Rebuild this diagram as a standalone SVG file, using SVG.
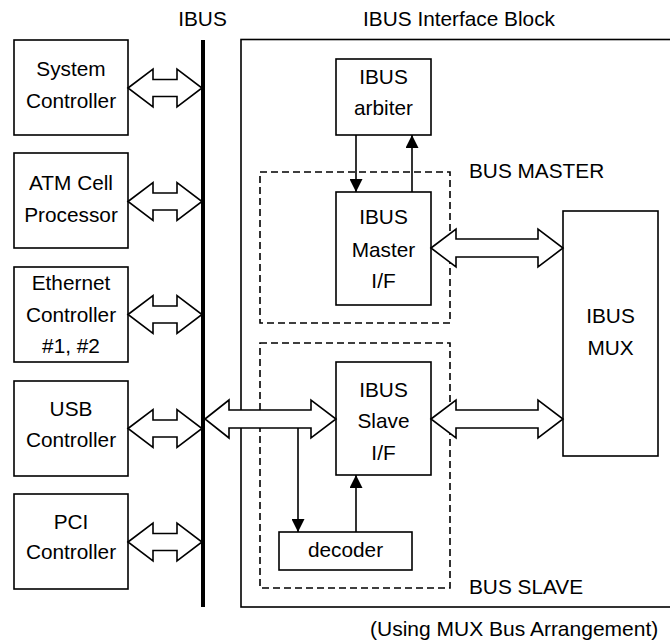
<svg xmlns="http://www.w3.org/2000/svg" width="670" height="641" viewBox="0 0 670 641">
<style>
text{font-family:"Liberation Sans",Arial,Helvetica,sans-serif;font-size:20.8px;fill:#000}
.c{text-anchor:middle}
.box{fill:#fff;stroke:#000;stroke-width:1.6}
.dash{fill:none;stroke:#000;stroke-width:1.6;stroke-dasharray:7 4}
.dbl{fill:#fff;stroke:#000;stroke-width:1.6;stroke-linejoin:miter}
.ln{fill:none;stroke:#000;stroke-width:1.6}
</style>
<defs>
<marker id="ah" markerUnits="userSpaceOnUse" markerWidth="13" markerHeight="13" refX="13" refY="6.5" orient="auto">
<path d="M0,0 L13,6.5 L0,13 z" fill="#000"/>
</marker>
</defs>
<rect width="670" height="641" fill="#fff"/>

<text class="c" x="202.5" y="26">IBUS</text>
<text class="c" x="459" y="26">IBUS Interface Block</text>

<g id="interface-block"><rect class="box" x="241" y="39.5" width="440" height="567.5"/></g>
<g id="bus-master-group"><rect class="dash" x="260" y="172" width="190" height="151"/><text x="469" y="178">BUS MASTER</text></g>
<g id="bus-slave-group"><rect class="dash" x="260" y="343" width="190" height="245"/><text x="469" y="594">BUS SLAVE</text></g>

<g id="system-controller"><rect class="box" x="14" y="40" width="114" height="95"/><text class="c" x="71" y="76">System</text><text class="c" x="71" y="108">Controller</text></g>
<g id="atm-cell-processor"><rect class="box" x="14" y="153" width="114" height="95"/><text class="c" x="71" y="190">ATM Cell</text><text class="c" x="71" y="222">Processor</text></g>
<g id="ethernet-controller"><rect class="box" x="14" y="267" width="114" height="95"/><text class="c" x="71" y="290">Ethernet</text><text class="c" x="71" y="322">Controller</text><text class="c" x="71" y="353">#1, #2</text></g>
<g id="usb-controller"><rect class="box" x="14" y="381" width="114" height="95"/><text class="c" x="71" y="416">USB</text><text class="c" x="71" y="447">Controller</text></g>
<g id="pci-controller"><rect class="box" x="14" y="494" width="114" height="95"/><text class="c" x="71" y="529">PCI</text><text class="c" x="71" y="559">Controller</text></g>

<g id="ibus-arbiter"><rect class="box" x="336" y="59" width="95" height="76"/><text class="c" x="383.5" y="83.5">IBUS</text><text class="c" x="383.5" y="115">arbiter</text></g>
<g id="ibus-master-if"><rect class="box" x="336" y="192" width="95" height="113"/><text class="c" x="383.5" y="224">IBUS</text><text class="c" x="383.5" y="256.5">Master</text><text class="c" x="383.5" y="288">I/F</text></g>
<g id="ibus-slave-if"><rect class="box" x="336" y="362" width="95" height="113"/><text class="c" x="383.5" y="396.5">IBUS</text><text class="c" x="383.5" y="428">Slave</text><text class="c" x="383.5" y="460">I/F</text></g>
<g id="decoder"><rect class="box" x="279" y="532" width="133" height="38"/><text class="c" x="345.5" y="557">decoder</text></g>
<g id="ibus-mux"><rect class="box" x="563" y="211" width="95" height="245"/><text class="c" x="610.5" y="323">IBUS</text><text class="c" x="610.5" y="355">MUX</text></g>

<g id="connectors">
<polygon class="dbl" points="128,88 153,69 153,79.5 177,79.5 177,69 202,88 177,107 177,96.5 153,96.5 153,107"/>
<polygon class="dbl" points="128,201.5 153,182.5 153,193 177,193 177,182.5 202,201.5 177,220.5 177,210 153,210 153,220.5"/>
<polygon class="dbl" points="128,314.5 153,295.5 153,306 177,306 177,295.5 202,314.5 177,333.5 177,323 153,323 153,333.5"/>
<polygon class="dbl" points="128,428.5 153,409.5 153,420 177,420 177,409.5 202,428.5 177,447.5 177,437 153,437 153,447.5"/>
<polygon class="dbl" points="128,542 153,523 153,533.5 177,533.5 177,523 202,542 177,561 177,550.5 153,550.5 153,561"/>
<polygon class="dbl" points="205,419 229,400 229,410 311,410 311,400 336,419 311,438 311,428 229,428 229,438"/>
<polygon class="dbl" points="431,248 456,229 456,239 538,239 538,229 563,248 538,267 538,257 456,257 456,267"/>
<polygon class="dbl" points="431,419 456,400 456,410 538,410 538,400 563,419 538,438 538,428 456,428 456,438"/>
<line class="ln" x1="356" y1="135" x2="356" y2="192" marker-end="url(#ah)"/>
<line class="ln" x1="412" y1="192" x2="412" y2="135" marker-end="url(#ah)"/>
<line class="ln" x1="298" y1="428" x2="298" y2="532" marker-end="url(#ah)"/>
<line class="ln" x1="356" y1="532" x2="356" y2="475" marker-end="url(#ah)"/>
<line x1="203" y1="40" x2="203" y2="607" stroke="#000" stroke-width="4"/>
</g>

<text x="370" y="636" style="font-size:21px">(Using MUX Bus Arrangement)</text>
</svg>
